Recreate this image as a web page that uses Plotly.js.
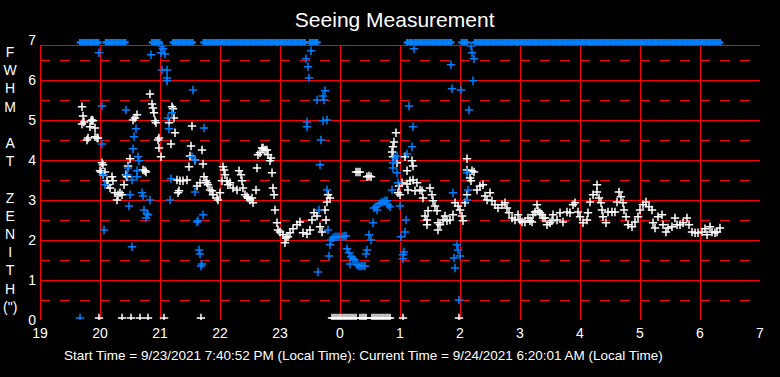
<!DOCTYPE html>
<html>
<head>
<meta charset="utf-8">
<script src="https://cdn.plot.ly/plotly-3.0.1.min.js"></script>
<style>html,body{margin:0;padding:0;background:#000;}#chart{width:780px;height:377px;}</style>
</head>
<body>
<div id="chart"></div>
<script>
// ---- Data (time in hours since midnight of 9/23; values = FWHM at zenith, arcsec) ----
const xTickVals = [19,20,21,22,23,24,25,26,27,28,29,30,31];
const xTickText = ['19','20','21','22','23','0','1','2','3','4','5','6','7'];
const yTickVals = [0,1,2,3,4,5,6,7];

const whiteX = [
 19.70,19.717,19.70,19.733,19.783,19.80,19.833,19.85,19.867,19.883,19.917,19.917,19.95,19.967,19.983,
 20.0,20.017,20.033,20.05,20.05,20.083,20.117,20.133,20.167,20.20,20.217,20.25,20.283,20.30,20.333,20.367,20.367,20.40,20.433,20.45,
 20.467,20.50,20.517,20.55,20.583,20.617,20.667,20.717,20.75,20.767,20.80,20.833,20.867,20.883,20.90,20.917,20.933,20.967,20.983,20.983,
 21.017,21.067,21.15,21.183,21.20,21.217,21.233,21.25,21.283,21.30,21.317,21.333,21.383,21.45,21.483,21.50,21.517,
 21.533,21.583,21.617,21.667,21.683,21.70,21.717,21.733,21.767,21.783,21.80,21.833,21.867,21.883,21.95,21.967,
 22.0,22.033,22.05,22.067,22.083,22.117,22.133,22.167,22.217,22.283,22.317,22.35,22.367,22.383,22.417,22.45,22.467,22.50,22.533,
 22.55,22.60,22.617,22.633,22.667,22.70,22.717,22.75,22.783,22.80,22.833,22.85,22.867,22.883,22.90,22.917,22.95,22.967,
 23.0,23.05,23.083,23.10,23.133,23.167,23.217,23.283,23.333,23.383,23.45,23.50,23.533,23.567,23.617,23.667,23.70,23.75,23.767,23.783,23.80,23.833,
 23.867,23.90,23.933,23.967,24.0,24.033,24.067,24.10,24.133,24.167,24.20,24.233,24.267,24.333,24.367,24.40,24.433,
 24.533,24.567,24.60,24.633,24.667,24.70,24.733,24.767,24.80,24.833,25.05,25.983,
 24.267,24.30,24.333,24.45,24.483,24.517,
 24.867,24.883,24.883,24.90,24.933,24.95,24.967,24.983,25.0,25.033,25.083,25.117,25.117,25.133,25.167,25.20,25.217,25.217,25.25,25.283,
 25.333,25.367,25.383,25.417,25.45,25.45,25.467,25.50,25.533,25.55,25.583,25.617,25.633,25.633,25.667,25.717,25.75,25.783,25.833,25.883,
 25.917,25.967,26.0,26.033,26.05,26.083,26.117,26.117,26.117,26.167,26.183,26.20,26.233,26.283,26.333,26.383,26.417,26.45,26.50,26.533,
 26.583,26.633,26.70,26.75,26.783,26.817,26.867,26.917,26.967,27.0,27.033,27.083,27.133,27.167,27.20,27.217,27.25,27.283,27.30,27.333,
 27.367,27.383,27.417,27.45,27.50,27.533,27.55,27.617,27.667,27.717,27.783,27.833,27.883,27.917,27.967,28.0,28.05,28.117,28.133,28.167,
 28.217,28.283,28.283,28.317,28.35,28.367,28.383,28.433,28.467,28.533,28.583,28.617,28.65,28.683,28.717,28.733,28.767,28.80,28.867,28.917,
 28.967,29.0,29.05,29.10,29.15,29.20,29.217,29.25,29.30,29.367,29.383,29.433,29.467,29.533,29.583,29.617,29.667,29.717,29.783,29.817,
 29.867,29.917,29.967,30.033,30.083,30.117,30.167,30.20,30.25,30.283,30.333
];
const whiteY = [
 5.33,5.10,4.90,4.95,4.50,4.55,4.83,4.98,5.00,4.98,4.80,4.58,4.55,4.55,0.05,
 3.73,3.70,3.93,3.88,3.63,3.70,3.48,3.38,3.30,3.58,3.48,3.18,3.00,3.13,3.18,3.13,0.05,3.38,3.63,3.58,
 3.85,4.03,0.05,5.00,5.05,5.13,0.05,3.75,3.73,3.70,0.05,5.65,5.40,5.30,5.18,4.98,4.93,4.50,4.55,4.30,
 4.08,0.05,4.93,4.40,5.33,5.28,5.05,4.68,3.50,3.18,3.23,3.48,3.48,3.50,3.83,4.10,4.35,
 4.85,4.00,3.35,3.43,0.05,4.25,3.90,3.58,3.48,3.43,3.38,3.25,3.23,3.13,3.05,3.00,
 3.18,3.48,3.83,3.75,3.63,3.48,3.38,3.43,3.30,3.25,3.73,3.63,3.48,3.30,3.13,3.08,3.05,3.00,3.05,
 2.93,3.25,3.80,4.13,4.18,4.30,4.30,4.25,4.25,4.13,3.98,4.05,3.68,3.30,3.13,2.75,2.43,2.25,
 2.20,2.13,1.93,2.05,2.08,2.18,2.28,2.38,2.45,2.18,2.15,2.25,2.50,2.68,2.60,2.33,2.20,2.75,2.50,2.95,3.13,3.05,
 0.05,0.05,0.05,0.05,0.05,0.05,0.05,0.05,0.05,0.05,0.05,0.05,0.05,0.05,0.05,0.05,0.05,
 0.05,0.05,0.05,0.05,0.05,0.05,0.05,0.05,0.05,0.05,0.05,0.05,
 3.70,3.70,3.70,3.58,3.60,3.58,
 4.20,4.33,4.08,4.45,4.68,3.93,3.18,3.35,3.13,3.43,4.08,3.73,3.40,3.25,3.48,3.98,3.85,3.50,3.23,3.43,
 3.25,3.23,3.05,2.60,2.50,2.38,2.73,3.30,3.13,2.98,2.85,2.73,2.43,2.25,2.38,2.50,2.60,2.48,2.50,2.63,
 2.93,2.85,2.75,2.60,2.48,2.93,4.03,3.75,3.13,3.55,3.48,3.73,3.70,3.25,3.35,3.38,3.10,3.00,3.18,2.98,
 2.88,2.80,2.88,2.93,2.80,2.68,2.55,2.50,2.63,2.50,2.45,2.45,2.55,2.48,2.45,2.63,2.70,2.88,2.73,2.68,
 2.63,2.55,2.55,2.38,2.43,2.48,2.63,2.50,2.68,2.45,2.70,2.68,2.88,2.93,2.70,2.58,2.43,2.50,2.68,2.95,
 3.13,3.20,3.38,3.05,2.93,2.75,2.58,2.43,2.70,2.70,2.70,2.95,3.20,3.08,2.93,2.75,2.58,2.38,2.33,2.45,
 2.58,2.75,2.88,2.95,2.83,2.75,2.43,2.30,2.58,2.63,2.38,2.20,2.30,2.33,2.55,2.38,2.38,2.43,2.55,2.38,
 2.20,2.18,2.18,2.20,2.28,2.13,2.33,2.20,2.18,2.20,2.30
];

const blueX = [
 19.667,19.983,20.033,20.033,20.05,20.083,20.067,20.433,20.45,20.467,20.483,20.50,20.533,20.533,20.55,20.567,20.60,20.617,20.617,20.633,
 20.65,20.70,20.717,20.733,20.767,20.783,20.80,20.833,20.85,21.017,21.033,21.05,21.083,21.033,21.117,21.117,21.117,21.133,21.15,21.167,
 21.183,21.20,21.55,21.533,21.583,21.583,21.617,21.633,21.65,21.667,21.683,21.70,21.717,21.733,
 23.433,23.45,23.45,23.467,23.483,23.517,23.617,23.633,23.65,23.667,23.683,23.717,23.717,23.733,23.75,23.783,23.783,23.80,23.817,23.833,
 23.85,23.883,23.917,23.95,23.983,24.033,24.067,24.10,24.117,24.15,24.183,24.217,24.167,24.25,24.283,24.317,24.35,24.383,24.417,24.433,
 24.45,24.483,24.517,24.55,24.567,24.60,24.617,24.65,24.683,24.717,24.75,24.783,24.80,24.833,24.867,24.883,24.883,24.917,24.95,24.95,
 24.967,25.0,25.017,25.05,25.05,25.067,25.083,25.10,25.117,25.15,25.20,25.217,25.233,25.85,25.867,25.883,25.90,25.917,25.95,25.967,
 25.983,26.0,26.017,26.117,26.117,26.133,26.15,26.183,26.20,26.217,26.233
];
const blueY = [
 0.05,6.68,5.35,4.40,3.63,3.38,2.25,5.25,3.63,3.80,2.85,3.13,3.50,1.83,4.28,4.58,4.78,3.73,3.58,4.08,
 3.98,3.18,3.10,2.75,2.55,2.65,2.63,3.00,6.63,6.68,6.85,6.78,6.65,6.25,6.25,6.05,5.98,5.05,4.78,3.00,
 3.53,5.18,5.75,4.08,4.00,3.20,2.45,2.48,1.75,1.65,1.35,1.40,2.63,4.80,
 6.53,4.95,4.83,6.33,6.05,6.73,5.50,1.20,2.75,3.88,4.50,5.60,4.98,5.50,5.73,5.00,3.25,2.25,1.60,1.88,
 2.00,2.05,2.08,2.08,2.08,2.08,2.10,2.10,1.78,1.68,1.58,1.53,1.40,1.50,1.38,1.35,1.35,1.35,1.35,1.65,
 1.75,2.13,2.00,2.43,2.80,2.83,2.75,2.90,2.93,2.95,2.98,2.98,2.88,2.83,3.25,3.93,3.80,4.05,4.10,3.68,
 3.43,2.85,2.08,1.63,1.53,1.70,2.20,2.50,4.15,5.35,4.33,4.83,6.78,6.38,5.78,3.18,1.55,1.30,1.88,1.75,
 0.50,1.60,5.75,3.68,3.00,3.25,5.25,6.85,6.68,5.98,6.53
];

// blue measurements above the top of the scale (drawn pinned just above the frame)
const blueTopX = [
 19.67,19.71,19.75,19.79,19.83,19.87,19.91,19.95,19.97,
 20.10,20.14,20.18,20.22,20.26,20.30,20.34,20.38,20.42,
 20.87,20.91,20.95,20.99,
 21.22,21.26,21.30,21.34,21.38,21.42,21.46,21.50,21.54,
 21.73,21.77,21.81,21.85,21.89,21.93,21.97,22.01,22.05,22.09,22.13,22.17,22.21,22.25,22.29,22.33,22.37,22.41,22.45,22.49,22.53,
 22.57,22.61,22.65,22.69,22.73,22.77,22.81,22.85,22.89,22.93,22.97,23.01,23.05,23.09,23.13,23.17,23.21,23.25,23.29,23.33,23.37,23.41,
 23.50,23.54,23.58,23.62,
 25.12,25.16,25.20,
 25.25,25.29,25.33,25.37,25.41,25.45,25.49,25.53,25.57,25.61,25.65,25.69,25.73,25.77,25.81,25.85,
 26.03,26.07,26.11,
 26.25,26.29,26.33,26.37,26.41,26.45,26.49,26.53,26.57,26.61,26.65,26.69,26.73,26.77,26.81,26.85,26.89,26.93,26.97,
 27.01,27.05,27.09,27.13,27.17,27.21,27.25,27.29,27.33,27.37,27.41,27.45,27.49,27.53,27.57,27.61,27.65,27.69,27.73,27.77,27.81,27.85,27.89,27.93,27.97,
 28.01,28.05,28.09,28.13,28.17,28.21,28.25,28.29,28.33,28.37,28.41,28.45,28.49,28.53,28.57,28.61,28.65,28.69,28.73,28.77,28.81,28.85,28.89,28.93,28.97,
 29.01,29.05,29.09,29.13,29.17,29.21,29.25,29.29,29.33,29.37,29.41,29.45,29.49,29.53,29.57,29.61,29.65,29.69,29.73,29.77,29.81,29.85,29.89,29.93,29.97,
 30.01,30.05,30.09,30.13,30.17,30.21,30.25,30.29,30.33
];
const TOP_PIN = 6.94;

const X_MIN = 19, X_MAX = 31, Y_TOP = 6.875;
const wholeLines = [1,2,3,4,5,6];
const halfLines = [0.5,1.5,2.5,3.5,4.5,5.5,6.5];
const vertLines = [20,21,22,23,24,25,26,27,28,29,30];

// ---- Styling ----
const RED = '#ff0000', BLUE = '#0080ff', WHITE = '#ffffff';
const FONT = 'Liberation Sans, Arial, sans-serif';

const traces = [
  {x: whiteX, y: whiteY, type: 'scatter', mode: 'markers', hoverinfo: 'skip',
   marker: {symbol: 'cross-thin', size: 6, line: {color: WHITE, width: 1.5}}},
  {x: blueX, y: blueY, type: 'scatter', mode: 'markers', hoverinfo: 'skip',
   marker: {symbol: 'cross-thin', size: 6, line: {color: BLUE, width: 1.5}}},
  {x: blueTopX, y: blueTopX.map(() => TOP_PIN), type: 'scatter', mode: 'markers', hoverinfo: 'skip',
   marker: {symbol: 'cross-thin', size: 5, line: {color: BLUE, width: 2.5}}}
];

// horizontal line, snapped to a pixel row
const hLine = (v, dash, layer) => ({type: 'line', xref: 'x', yref: 'y', x0: X_MIN, x1: X_MAX,
  ysizemode: 'pixel', yanchor: v, y0: -0.5, y1: -0.5, layer: layer,
  line: {color: RED, width: 1, dash: dash}});
// vertical line, snapped to a pixel column
const vLine = (v, layer) => ({type: 'line', xref: 'x', yref: 'y', y0: 0, y1: Y_TOP,
  xsizemode: 'pixel', xanchor: v, x0: 0.5, x1: 0.5, layer: layer,
  line: {color: RED, width: 1}});

const shapes = []
  .concat(halfLines.map(v => hLine(v, '10px,10px', 'below')))
  .concat(wholeLines.map(v => hLine(v, 'solid', 'below')))
  .concat(vertLines.map(v => vLine(v, 'below')))
  .concat([hLine(0, 'solid', 'above'),
           {type: 'line', xref: 'x', yref: 'y', x0: X_MIN, x1: X_MAX, ysizemode: 'pixel', yanchor: 0,
            y0: 274.5, y1: 274.5, layer: 'above', line: {color: RED, width: 1}},
           vLine(X_MIN, 'above'),
           {type: 'line', xref: 'x', yref: 'y', y0: 0, y1: Y_TOP, xsizemode: 'pixel', xanchor: X_MAX,
            x0: 0.5, x1: 0.5, layer: 'above', line: {color: RED, width: 1}}]);

const layout = {
  width: 780, height: 377,
  paper_bgcolor: '#000', plot_bgcolor: '#000',
  margin: {l: 40, r: 20, t: 35, b: 57},
  showlegend: false,
  title: {text: 'Seeing Measurement', x: 0.506, xref: 'container', xanchor: 'center',
          y: 1 - 20/377, yref: 'container', yanchor: 'middle',
          font: {family: FONT, size: 21, color: WHITE}},
  xaxis: {range: [X_MIN, X_MAX], tickmode: 'array', tickvals: xTickVals, ticktext: xTickText,
          showgrid: false, zeroline: false, showline: false, ticks: '', ticklabelstandoff: 3,
          tickfont: {family: FONT, size: 14, color: WHITE}, fixedrange: true},
  yaxis: {range: [0, 7.125], tickmode: 'array', tickvals: yTickVals,
          showgrid: false, zeroline: false, showline: false, ticks: '', ticklabelstandoff: 3,
          tickfont: {family: FONT, size: 14, color: WHITE}, fixedrange: true},
  shapes: shapes,
  annotations: [
    {text: 'F<br>W<br>H<br>M<br><br>A<br>T<br><br>Z<br>E<br>N<br>I<br>T<br>H<br>(")',
     xref: 'paper', yref: 'paper', x: (11 - 40) / 720, y: (320 - 179.5) / 285, xanchor: 'center', yanchor: 'middle',
     showarrow: false, font: {family: FONT, size: 14, color: WHITE}},
    {text: 'Start Time = 9/23/2021 7:40:52 PM (Local Time): Current Time = 9/24/2021 6:20:01 AM (Local Time)',
     xref: 'paper', yref: 'paper', x: (363 - 40) / 720, y: (320 - 355) / 285, xanchor: 'center', yanchor: 'middle',
     showarrow: false, font: {family: FONT, size: 13.5, color: WHITE}}
  ]
};

Plotly.newPlot('chart', traces, layout, {displayModeBar: false, staticPlot: true});
</script>
</body>
</html>
